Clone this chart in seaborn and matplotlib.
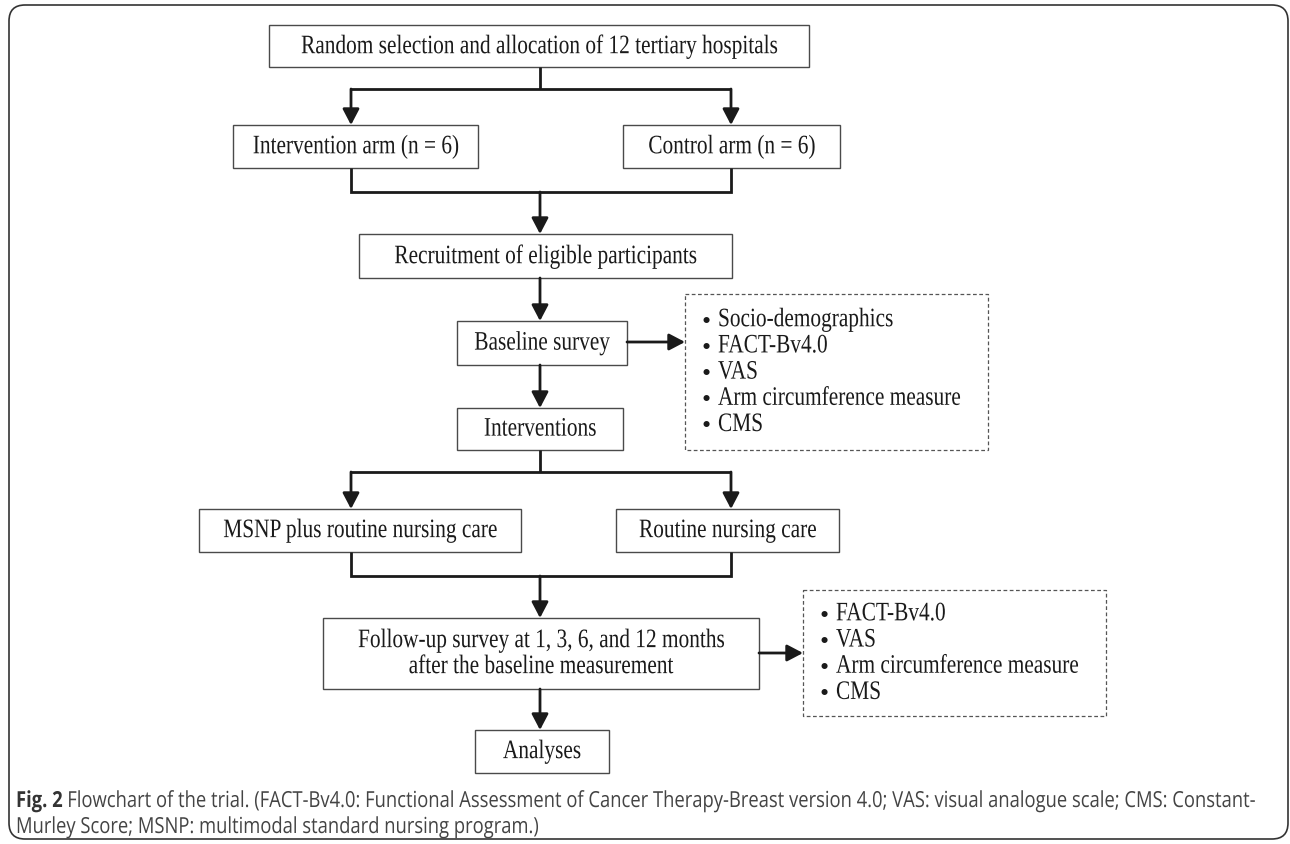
"""
Trial flowchart (Fig. 2) redrawn with matplotlib + seaborn styling.
"""
import matplotlib
matplotlib.use("Agg")
import matplotlib.pyplot as plt
import seaborn as sns
from matplotlib.patches import Rectangle, FancyBboxPatch
from matplotlib.patheffects import AbstractPathEffect
from matplotlib.transforms import Affine2D

sns.set_theme(style="white")
plt.rcParams["font.family"] = ["Liberation Serif", "DejaVu Serif"]

# --- content -------------------------------------------------------------
box_labels = [
    "Random selection and allocation of 12 tertiary hospitals",
    "Intervention arm (n = 6)",
    "Control arm (n = 6)",
    "Recruitment of eligible participants",
    "Baseline survey",
    "Interventions",
    "MSNP plus routine nursing care",
    "Routine nursing care",
    "Follow-up survey at 1, 3, 6, and 12 months\nafter the baseline measurement",
    "Analyses",
]
baseline_measures = ["Socio-demographics", "FACT-Bv4.0", "VAS",
                     "Arm circumference measure", "CMS"]
followup_measures = ["FACT-Bv4.0", "VAS", "Arm circumference measure", "CMS"]
caption_bold = "Fig. 2"
caption_line1 = (" Flowchart of the trial. (FACT-Bv4.0: Functional Assessment of Cancer "
                 "Therapy-Breast version 4.0; VAS: visual analogue scale; CMS: Constant-")
caption_line2 = "Murley Score; MSNP: multimodal standard nursing program.)"

# --- layout (pixel coords, y down) ---------------------------------------
# x0, x1, y0, y1 for each box, same order as box_labels
box_pos = [
    (269, 809, 26, 68),
    (233, 478, 126, 169),
    (623, 840, 126, 169),
    (359, 732, 235, 279),
    (457, 627, 322, 366),
    (457, 623, 409, 451),
    (199, 521, 510, 553),
    (616, 839, 510, 553),
    (323, 759, 619, 690),
    (475, 609, 731, 774),
]
dash_boxes = [(685, 988, 295, 451), (803, 1106, 591, 717)]
cx, lx, rx = 540, 351, 731

fig = plt.figure(figsize=(12.9, 8.45), dpi=100)
ax = fig.add_axes([0, 0, 1, 1])
ax.set_xlim(0, 1290)
ax.set_ylim(845, 0)
ax.axis("off")


class VStretch(AbstractPathEffect):
    """Stretch glyphs vertically about a fixed display y (the source type is tall/narrow)."""

    def __init__(self, yc, sy):
        super().__init__()
        self.yc, self.sy = yc, sy

    def draw_path(self, renderer, gc, tpath, affine, rgbFace=None):
        a = affine + Affine2D().translate(0, -self.yc).scale(1, self.sy).translate(0, self.yc)
        renderer.draw_path(gc, tpath, a, rgbFace)


def label(x, y, s, size, sy=1.25, **kw):
    yc = ax.transData.transform((x, y))[1]
    return ax.text(x, y, s, va="center", fontsize=size, color="#1a1a1a",
                   path_effects=[VStretch(yc, sy)], **kw)


# calibrate font size so the top label has the measured width
fig.canvas.draw()
rend = fig.canvas.get_renderer()
probe = ax.text(0, 0, box_labels[0], fontsize=10)
fs = 10 * 478 / probe.get_window_extent(rend).width
probe.remove()

# outer rounded frame
ax.add_patch(FancyBboxPatch((9, 6), 1279, 834, boxstyle="round,pad=0,rounding_size=16",
                            fill=False, ec="#333333", lw=1.2))

edge = "#4a4a4a"
for text, (x0, x1, y0, y1) in zip(box_labels, box_pos):
    ax.add_patch(Rectangle((x0, y0), x1 - x0, y1 - y0, fill=False, ec=edge, lw=1.0))
    lines = text.split("\n")
    ym = (y0 + y1) / 2 + 1
    for j, ln in enumerate(lines):
        label((x0 + x1) / 2, ym + (j - (len(lines) - 1) / 2) * 26, ln, fs, ha="center")

for (x0, x1, y0, y1), items in zip(dash_boxes, [baseline_measures, followup_measures]):
    ax.add_patch(Rectangle((x0, y0), x1 - x0, y1 - y0, fill=False, ec="#555555",
                           lw=0.9, ls=(0, (3, 2))))
    step = 26.2
    top = (y0 + y1) / 2 - step * (len(items) - 1) / 2
    for i, it in enumerate(items):
        y = top + i * step
        ax.text(x0 + 21, y + 2, "\u2022", ha="center", va="center", fontsize=fs * 1.2,
                color="#1a1a1a")
        label(x0 + 33, y + 1, it, fs, ha="left")

lk = dict(color="#1a1a1a", lw=2.0, solid_capstyle="butt", solid_joinstyle="miter")


def seg(xs, ys):
    ax.plot(xs, ys, **lk)


def arrow(x0, y0, x1, y1):
    ax.annotate("", xy=(x1, y1), xytext=(x0, y0),
                arrowprops=dict(arrowstyle="-|>,head_length=0.8,head_width=0.42",
                                color="#1a1a1a", lw=2.0, shrinkA=0, shrinkB=0))


# random -> two arms
seg([cx, cx], [68, 90])
seg([lx, rx], [90, 90])
arrow(lx, 90, lx, 126)
arrow(rx, 90, rx, 126)
# arms -> recruitment
seg([lx, lx, rx, rx], [169, 193, 193, 169])
arrow(cx, 193, cx, 235)
arrow(cx, 279, cx, 322)
arrow(627, 343, 685, 343)
arrow(cx, 366, cx, 409)
# interventions -> two care types
seg([cx, cx], [451, 473])
seg([lx, rx], [473, 473])
arrow(lx, 473, lx, 510)
arrow(rx, 473, rx, 510)
seg([lx, lx, rx, rx], [553, 577, 577, 553])
arrow(cx, 577, cx, 619)
arrow(759, 654, 803, 654)
arrow(cx, 690, cx, 731)

# caption in a sans face, fitted to the measured line width
cap_family = ["Liberation Sans Narrow", "Open Sans", "DejaVu Sans"]
t_bold = label(16, 802, caption_bold, 10, sy=1.2, family=cap_family, weight="bold")
t1 = label(0, 802, caption_line1, 10, sy=1.2, family=cap_family)
fig.canvas.draw()
wb = t_bold.get_window_extent(rend).width
w1 = t1.get_window_extent(rend).width
cfs = 10 * (1255 - 16) / (wb + w1)
t_bold.set_fontsize(cfs)
t1.set_fontsize(cfs)
fig.canvas.draw()
t1.set_x(16 + t_bold.get_window_extent(rend).width)
t_bold.set_color("#333333")
t1.set_color("#444444")
t2 = label(16, 828, caption_line2, cfs, sy=1.2, family=cap_family, ha="left")
t2.set_color("#444444")

fig.savefig("out.png", dpi=100)
plt.close(fig)
